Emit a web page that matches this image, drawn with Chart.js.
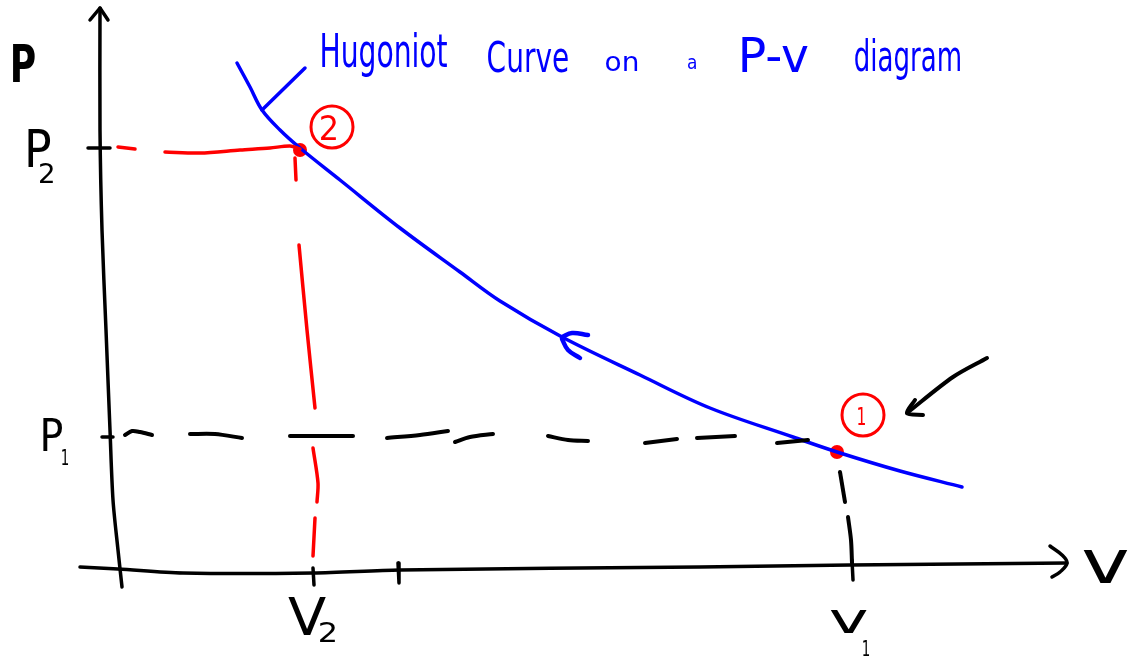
<!DOCTYPE html>
<html>
<head>
<meta charset="utf-8">
<script src="https://cdn.jsdelivr.net/npm/chart.js@4"></script>
<style>
    html, body { margin: 0; padding: 0; background: #fff; }
    canvas { display: block; }
</style>
</head>
<body>
<canvas id="pvChart" width="1130" height="658"></canvas>
<script>
// --- STATE VALUES (v = specific volume, P = pressure) ---
const V1 = 7.34, V2 = 1.95;
const P1 = 1.33, P2 = 4.22;

const pTickValues = [P2, P1];
const pTickNames = [['P', '2'], ['P', '1']];
const vTickValues = [V2, 2.80, V1];
const vTickNames = [['V', '2'], null, ['v', '1']];
const titleWords = ['Hugoniot', 'Curve', 'on', 'a', 'P-v', 'diagram'];

// Hugoniot curve, drawn by hand
const hugoniotV = [1.19, 1.32, 1.44, 1.62, 1.82, 2.22, 2.82, 3.42, 3.82, 4.44, 5.22, 5.92, 6.75, 7.19, 7.82, 8.44];
const hugoniotP = [5.07, 4.83, 4.60, 4.40, 4.22, 3.90, 3.42, 2.98, 2.69, 2.33, 1.95, 1.62, 1.33, 1.18, 0.99, 0.83];

// the two states sitting on the curve
const stateV = [1.82, 7.19];
const stateP = [4.20, 1.18];
const stateTags = ['2', '1'];
const tagV = [2.14, 7.45];
const tagP = [4.43, 1.55];

// pointer from the label to the curve
const leaderV = [1.44, 1.87];
const leaderP = [4.60, 5.02];

// direction chevron on the curve
const chevronV = [[4.70, 4.54, 4.44], [4.44, 4.50, 4.62]];
const chevronP = [[2.35, 2.37, 2.33], [2.31, 2.20, 2.12]];

// P2 / V2 guide lines (red dashes)
const redDashV = [[0, 0.17], [0.47, 0.82, 1.22, 1.52, 1.72, 1.82], [1.77, 1.78], [1.81, 1.89, 1.97], [1.95, 2.00, 1.99], [1.97, 1.95]];
const redDashP = [[4.23, 4.21], [4.18, 4.17, 4.20, 4.22, 4.24, 4.21], [4.12, 3.90], [3.25, 2.40, 1.62], [1.22, 0.87, 0.68], [0.52, 0.14]];

// P1 / v1 guide lines (black dashes)
const blackDashV = [[0.07, 0.14, 0.22, 0.34], [0.72, 0.97, 1.24], [1.72, 2.35], [2.69, 3.02, 3.30], [3.37, 3.52, 3.75],
    [4.30, 4.50, 4.70], [5.27, 5.59], [5.79, 6.17], [6.59, 6.90], [7.22, 7.27], [7.30, 7.33, 7.34]];
const blackDashP = [[1.35, 1.39, 1.38, 1.35], [1.36, 1.36, 1.32], [1.34, 1.34], [1.32, 1.35, 1.39], [1.28, 1.33, 1.36],
    [1.34, 1.30, 1.29], [1.27, 1.31], [1.32, 1.34], [1.27, 1.30], [0.98, 0.68], [0.53, 0.30, 0.07]];

// axes
const pAxisV = [0.04, 0, -0.05, -0.08, -0.12, -0.16, -0.18, -0.18];
const pAxisP = [-0.17, 0.20, 0.70, 1.40, 2.40, 3.40, 4.40, 5.62];
const pHeadV = [-0.28, -0.18, -0.10];
const pHeadP = [5.50, 5.62, 5.50];
const vAxisV = [-0.38, 0, 0.65, 1.95, 2.82, 5.82, 7.32, 9.49];
const vAxisP = [0.03, 0.01, -0.03, -0.03, 0, 0.03, 0.05, 0.07];
const vHeadV = [9.32, 9.44, 9.49, 9.42, 9.34];
const vHeadP = [0.24, 0.15, 0.07, -0.02, -0.07];

// tick marks across the axes
const pTickFrom = [-0.30, -0.16];
const pTickTo = [-0.08, -0.05];
const vTickFrom = [0.02, 0.07, 0.10];
const vTickTo = [-0.15, -0.13, -0.10];

// arrow pointing at state 1
const pointerV = [[8.69, 8.35, 7.89], [7.97, 7.89, 8.05]];
const pointerP = [[2.12, 1.93, 1.57], [1.70, 1.57, 1.55]];

const BLUE = '#0000ff';
const RED = '#ff0000';
const BLACK = '#000000';

function pts(vs, ps) {
    return vs.map((v, i) => ({ x: v, y: ps[i] }));
}

function stroke(vs, ps, color, width, tension) {
    return {
        data: pts(vs, ps),
        showLine: true,
        borderColor: color,
        borderWidth: width || 3,
        tension: tension || 0,
        pointRadius: 0,
        fill: false
    };
}

const datasets = [];

// axes and ticks
datasets.push(stroke(pAxisV, pAxisP, BLACK, 3.5, 0.3));
datasets.push(stroke(pHeadV, pHeadP, BLACK, 3.5));
datasets.push(stroke(vAxisV, vAxisP, BLACK, 3.5, 0.3));
datasets.push(stroke(vHeadV, vHeadP, BLACK, 3.5, 0.4));
pTickValues.forEach((p, i) => datasets.push(stroke([pTickFrom[i], pTickTo[i]], [p, p], BLACK, 3.5)));
vTickValues.forEach((v, i) => datasets.push(stroke([v, v + 0.01], [vTickFrom[i], vTickTo[i]], BLACK, 3.5)));

// dashed guides
blackDashV.forEach((seg, i) => datasets.push(stroke(seg, blackDashP[i], BLACK, 4, 0.3)));
redDashV.forEach((seg, i) => datasets.push(stroke(seg, redDashP[i], RED, 3.5, 0.3)));

// curve + decorations
datasets.push(stroke(hugoniotV, hugoniotP, BLUE, 3.5, 0.35));
datasets.push(stroke(leaderV, leaderP, BLUE, 3.5));
chevronV.forEach((seg, i) => datasets.push(stroke(seg, chevronP[i], BLUE, 4.5, 0.4)));
pointerV.forEach((seg, i) => datasets.push(stroke(seg, pointerP[i], BLACK, 4, 0.3)));

// state markers
datasets.push({
    data: pts(stateV, stateP),
    showLine: false,
    pointRadius: 7,
    pointBackgroundColor: RED,
    pointBorderColor: RED,
    pointBorderWidth: 0
});
datasets.push({
    data: pts(tagV, tagP),
    showLine: false,
    pointRadius: 21,
    pointBackgroundColor: 'rgba(0,0,0,0)',
    pointBorderColor: RED,
    pointBorderWidth: 3
});

// draws text stretched into a pixel box (left, top, width, height)
function boxText(ctx, text, x, y, w, h, color, weight) {
    ctx.save();
    ctx.font = (weight || 'normal') + " 100px 'DejaVu Sans'";
    const m = ctx.measureText(text);
    const bw = m.actualBoundingBoxLeft + m.actualBoundingBoxRight;
    const bh = m.actualBoundingBoxAscent + m.actualBoundingBoxDescent;
    ctx.translate(x, y);
    ctx.scale(w / bw, h / bh);
    ctx.fillStyle = color;
    ctx.textAlign = 'left';
    ctx.textBaseline = 'alphabetic';
    ctx.fillText(text, m.actualBoundingBoxLeft, m.actualBoundingBoxAscent);
    ctx.restore();
}

const sketchLabels = {
    id: 'sketchLabels',
    afterDatasetsDraw(chart) {
        const ctx = chart.ctx;

        // axis names
        boxText(ctx, 'P', 13, 45, 22, 38, BLACK, 'bold');
        boxText(ctx, 'v', 1083, 550, 45, 33, BLACK);

        // tick names: main letter + subscript
        const pBoxes = [[28, 130, 22, 38, 40, 163, 13, 20], [43, 418, 19, 33, 62, 450, 6, 15]];
        pTickNames.forEach((n, i) => {
            const b = pBoxes[i];
            boxText(ctx, n[0], b[0], b[1], b[2], b[3], BLACK);
            boxText(ctx, n[1], b[4], b[5], b[6], b[7], BLACK);
        });
        const vBoxes = [[288, 598, 38, 37, 320, 622, 15, 20], null, [830, 610, 37, 23, 863, 641, 6, 15]];
        vTickNames.forEach((n, i) => {
            if (!n) return;
            const b = vBoxes[i];
            boxText(ctx, n[0], b[0], b[1], b[2], b[3], BLACK);
            boxText(ctx, n[1], b[4], b[5], b[6], b[7], BLACK);
        });

        // numbers inside the state circles
        const tagBoxes = [[321, 115, 15, 25], [858, 407, 7, 18]];
        stateTags.forEach((t, i) => {
            const b = tagBoxes[i];
            boxText(ctx, t, b[0], b[1], b[2], b[3], RED);
        });

        // title, word by word
        const wordBoxes = [[322, 32, 125, 45], [488, 40, 80, 32], [606, 56, 31, 15], [688, 58, 8, 11], [742, 36, 66, 36], [855, 38, 105, 42]];
        titleWords.forEach((wd, i) => {
            const b = wordBoxes[i];
            boxText(ctx, wd, b[0], b[1], b[2], b[3], BLUE);
        });
    }
};

new Chart(document.getElementById('pvChart').getContext('2d'), {
    type: 'scatter',
    data: { datasets: datasets },
    options: {
        responsive: false,
        animation: false,
        layout: { padding: 0, autoPadding: false },
        elements: { line: { borderCapStyle: 'round', borderJoinStyle: 'round' } },
        scales: {
            x: { type: 'linear', min: -1.18, max: 10.12, display: false },
            y: { type: 'linear', min: -0.88, max: 5.70, display: false }
        },
        plugins: {
            legend: { display: false },
            tooltip: { enabled: false }
        }
    },
    plugins: [sketchLabels]
});
</script>
</body>
</html>
